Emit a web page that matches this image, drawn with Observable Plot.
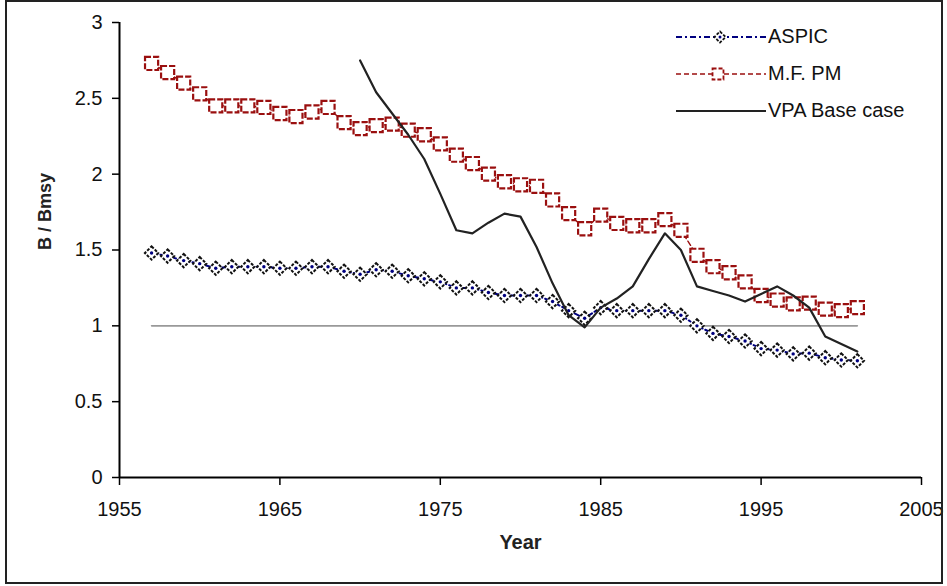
<!DOCTYPE html>
<html>
<head>
<meta charset="utf-8">
<script src="https://cdn.jsdelivr.net/npm/d3@7"></script>
<script src="https://cdn.jsdelivr.net/npm/@observablehq/plot@0.6"></script>
<style>
  html, body { margin: 0; padding: 0; background: #fff; }
  #wrap { position: relative; width: 947px; height: 586px; font-family: "Liberation Sans", Arial, sans-serif; }
  #border { position: absolute; left: 5px; top: 0px; width: 934px; height: 580px; border: 2px solid #222; pointer-events: none; }
  #legend { position: absolute; left: 673px; top: 18px; }
  .row { display: flex; align-items: center; height: 37px; }
  .row span { font-size: 20px; color: #111; margin-left: 2px; }
</style>
</head>
<body>
<div id="wrap">
  <div id="chart"></div>
  <div id="legend"></div>
  <div id="border"></div>
</div>
<script>
// ---- data ----
const years = [1957,1958,1959,1960,1961,1962,1963,1964,1965,1966,1967,1968,1969,1970,1971,1972,1973,1974,1975,1976,1977,1978,1979,1980,1981,1982,1983,1984,1985,1986,1987,1988,1989,1990,1991,1992,1993,1994,1995,1996,1997,1998,1999,2000,2001];
const aspic = [1.48,1.46,1.43,1.41,1.38,1.39,1.39,1.39,1.38,1.38,1.39,1.39,1.36,1.34,1.37,1.36,1.33,1.31,1.29,1.25,1.25,1.22,1.20,1.20,1.20,1.16,1.10,1.05,1.12,1.10,1.10,1.10,1.10,1.07,1.00,0.95,0.93,0.90,0.85,0.84,0.815,0.82,0.79,0.775,0.77];
const mfpm = [2.73,2.67,2.60,2.53,2.45,2.45,2.45,2.44,2.40,2.38,2.41,2.44,2.34,2.30,2.32,2.33,2.29,2.26,2.20,2.125,2.07,2.00,1.95,1.93,1.92,1.83,1.74,1.64,1.73,1.675,1.66,1.66,1.70,1.63,1.465,1.39,1.35,1.29,1.20,1.17,1.145,1.15,1.11,1.10,1.12];
const vpaYears = [1970,1971,1972,1973,1974,1975,1976,1977,1978,1979,1980,1981,1982,1983,1984,1985,1986,1987,1988,1989,1990,1991,1992,1993,1994,1995,1996,1997,1998,1999,2000,2001];
const vpa = [2.75,2.54,2.40,2.26,2.10,1.87,1.63,1.61,1.68,1.74,1.72,1.52,1.28,1.07,0.99,1.12,1.18,1.26,1.44,1.61,1.50,1.26,1.23,1.20,1.16,1.21,1.26,1.20,1.12,0.93,0.88,0.83];
const refValue = 1;
const xTicks = [1955,1965,1975,1985,1995,2005];
const yTicks = [0,0.5,1,1.5,2,2.5,3];
const seriesNames = ["ASPIC","M.F. PM","VPA Base case"];
const xLabel = "Year";
const yLabel = "B / Bmsy";

// ---- tables ----
const aspicData = years.map((y,i)=>({year:y, v:aspic[i]}));
const mfData = years.map((y,i)=>({year:y, v:mfpm[i]}));
const vpaData = vpaYears.map((y,i)=>({year:y, v:vpa[i]}));
const refData = [{year:years[0], v:refValue},{year:years[years.length-1], v:refValue}];

const BLUE = "#00007f", RED = "#9a0f0f", BLACK = "#222";

const chart = Plot.plot({
  width: 947, height: 586,
  marginLeft: 119, marginRight: 26, marginTop: 22, marginBottom: 109,
  x: {domain: [1955, 2005]},
  y: {domain: [0, 3]},
  style: {fontFamily: "Liberation Sans, Arial, sans-serif", fontSize: "20px", color: "#111", background: "white", overflow: "visible"},
  marks: [
    Plot.line(refData, {x: "year", y: "v", stroke: "#999", strokeWidth: 1.6}),
    Plot.line(mfData, {x: "year", y: "v", stroke: RED, strokeWidth: 1.4, strokeDasharray: "5,3"}),
    Plot.dot(mfData, {x: "year", y: "v", symbol: "square", r: 7.4, stroke: RED, strokeWidth: 2.2, fill: "white", strokeDasharray: "6,2"}),
    Plot.line(aspicData, {x: "year", y: "v", stroke: BLUE, strokeWidth: 2, strokeDasharray: "6,3,2,3"}),
    Plot.dot(aspicData, {x: "year", y: "v", symbol: "diamond2", r: 6, stroke: "#111", strokeWidth: 2, fill: "white", strokeDasharray: "3,1.5"}),
    Plot.dot(aspicData, {x: "year", y: "v", r: 1.7, fill: BLUE}),
    Plot.line(vpaData, {x: "year", y: "v", stroke: BLACK, strokeWidth: 2.2}),
    Plot.ruleX([xTicks[0]], {stroke: "#000", strokeWidth: 2}),
    Plot.ruleY([yTicks[0]], {stroke: "#000", strokeWidth: 2}),
    Plot.axisX({ticks: xTicks, tickFormat: d => String(d), tickSize: 8, tickPadding: 16, label: null, stroke: "#000", strokeWidth: 1.5, fontSize: 20}),
    Plot.axisY({ticks: yTicks, tickFormat: d => String(d), tickSize: 7, tickPadding: 10, label: null, stroke: "#000", strokeWidth: 1.5, fontSize: 20}),
    Plot.text([yLabel], {frameAnchor: "left", dx: -74, rotate: -90, fontWeight: "bold", fontSize: 18, fill: "#222"}),
    Plot.text([xLabel], {frameAnchor: "bottom", dy: 71, fontWeight: "bold", fontSize: 20, fill: "#222"})
  ]
});
document.getElementById("chart").appendChild(chart);

// ---- legend ----
const legend = d3.select("#legend");
const styles = [
  {stroke: BLUE, dash: "6,3,2,3", sw: 2, marker: "diamond"},
  {stroke: RED, dash: "5,3", sw: 1.4, marker: "square"},
  {stroke: BLACK, dash: null, sw: 2.2, marker: null}
];
seriesNames.forEach((name, i) => {
  const s = styles[i];
  const row = legend.append("div").attr("class", "row");
  const svg = row.append("svg").attr("width", 93).attr("height", 20);
  svg.append("line").attr("x1", 3).attr("x2", 93).attr("y1", 10).attr("y2", 10)
    .attr("stroke", s.stroke).attr("stroke-width", s.sw).attr("stroke-dasharray", s.dash);
  if (s.marker === "diamond") {
    svg.append("path").attr("d", d3.symbol(d3.symbolDiamond2, 80)()).attr("transform", "translate(47,10)")
      .attr("fill", "white").attr("stroke", "#111").attr("stroke-width", 1.8).attr("stroke-dasharray", "3,1.5");
    svg.append("circle").attr("cx", 47).attr("cy", 10).attr("r", 1.5).attr("fill", BLUE);
  } else if (s.marker === "square") {
    svg.append("path").attr("d", d3.symbol(d3.symbolSquare, 120)()).attr("transform", "translate(45,10)")
      .attr("fill", "white").attr("stroke", RED).attr("stroke-width", 1.8).attr("stroke-dasharray", "4,2");
  }
  row.append("span").text(name);
});
</script>
</body>
</html>
